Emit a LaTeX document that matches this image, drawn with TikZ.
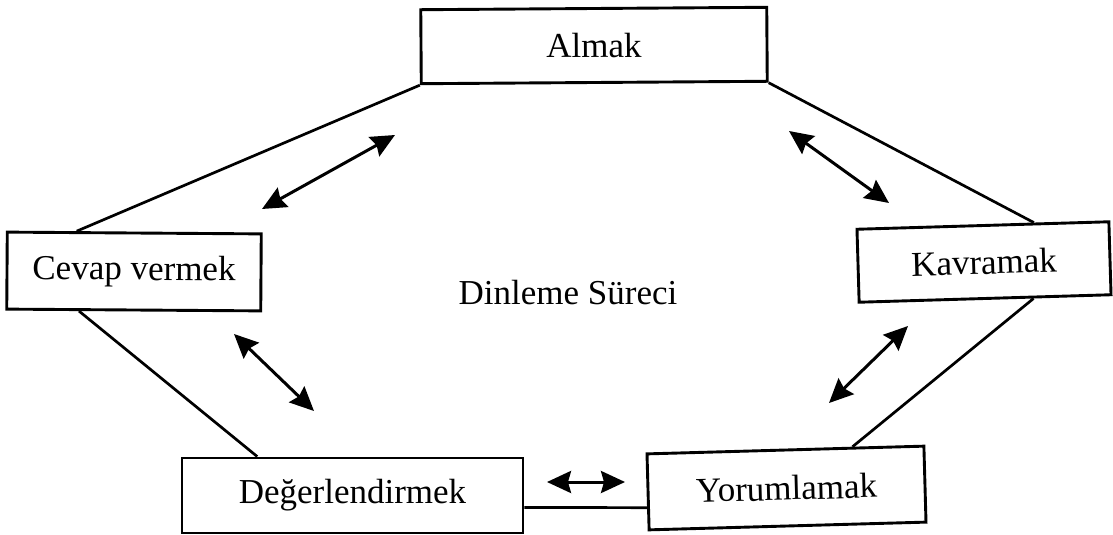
\documentclass[tikz,border=0pt]{standalone}
\usepackage{fontspec}
\setmainfont{Liberation Serif}
\usetikzlibrary{arrows.meta,calc}
\begin{document}
\begin{tikzpicture}[x=1pt,y=-1pt,
  stage/.style={draw,line width=2.9pt,rectangle,inner sep=0pt,fill=white,
    font=\fontsize{35}{40}\selectfont},
  link/.style={line width=2.7pt},
  biarrow/.style={line width=3pt,
    {Stealth[length=24pt,width=22pt,inset=3pt]}-{Stealth[length=24pt,width=22pt,inset=3pt]}}]
\useasboundingbox (0,0) rectangle (1113,535);

% stages of the listening process
\node[stage,minimum width=346pt,minimum height=74pt,rotate=0.4] (A) at (594,45.5) {Almak};
\node[stage,minimum width=254pt,minimum height=77pt,rotate=-0.4] (C) at (134,271.5) {Cevap vermek};
\node[stage,minimum width=252pt,minimum height=73pt,rotate=1.7] (K) at (984,262) {Kavramak};
\node[stage,minimum width=341pt,minimum height=75pt] (D) at (352.5,495.5) {Değerlendirmek};
\node[stage,minimum width=277pt,minimum height=76pt,rotate=1.6] (Y) at (786.5,488) {Yorumlamak};

\node[font=\fontsize{35}{40}\selectfont] (T) at (568,293) {Dinleme Süreci};

% outline joining the stages
\draw[link] (A.south west) -- ($(C.north west)!0.276!(C.north east)$);
\draw[link] (A.south east) -- ($(K.north west)!0.70!(K.north east)$);
\draw[link] ($(C.south west)!0.287!(C.south east)$) -- ($(D.north west)!0.223!(D.north east)$);
\draw[link] ($(K.south west)!0.69!(K.south east)$) -- ($(Y.north west)!0.74!(Y.north east)$);
\draw[link] ($(D.south east)!0.347!(D.north east)$) -- ($(Y.south west)!0.30!(Y.north west)$);

% two-way arrows inside the cycle
\coordinate (a1) at (262,209); \coordinate (a2) at (395,135);
\coordinate (b1) at (789,131); \coordinate (b2) at (889,203);
\coordinate (c1) at (234,334); \coordinate (c2) at (314,411);
\coordinate (d1) at (829,403); \coordinate (d2) at (908,326);
\coordinate (e1) at (547,482); \coordinate (e2) at (625,482);
\draw[biarrow] (a1) -- (a2);
\draw[biarrow] (b1) -- (b2);
\draw[biarrow] (c1) -- (c2);
\draw[biarrow] (d1) -- (d2);
\draw[biarrow] (e1) -- (e2);
\end{tikzpicture}
\end{document}
